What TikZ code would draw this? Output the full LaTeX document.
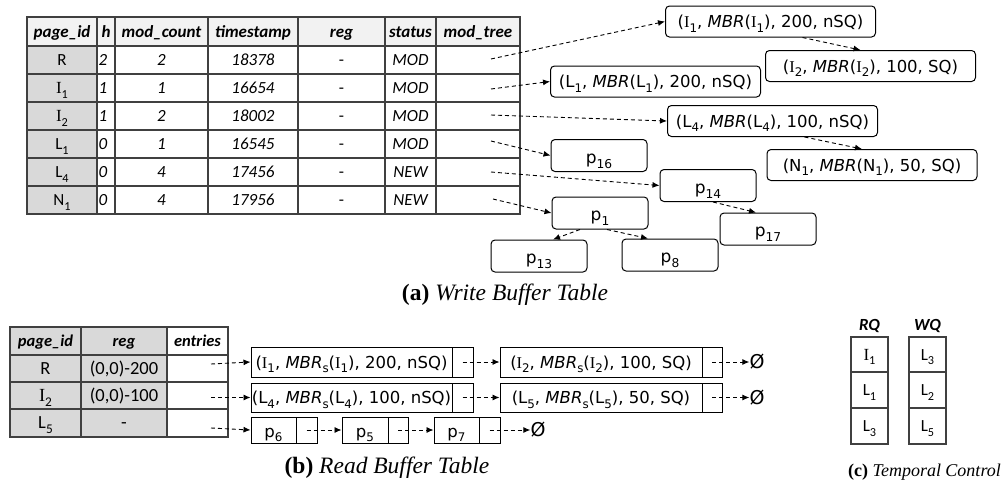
\documentclass[tikz,border=0pt]{standalone}
\usepackage{fontspec}
\setmainfont{Liberation Serif}
\newfontfamily\carl{Carlito}
\newfontfamily\verd{DejaVu Sans}
\newfontfamily\serI{Liberation Serif}
\usetikzlibrary{arrows.meta,calc}
\definecolor{hdr}{RGB}{242,242,242}
\definecolor{gcol}{RGB}{217,217,217}
\definecolor{tline}{RGB}{64,64,64}
\newcommand\sbs[1]{\raisebox{-0.28em}{\scalebox{0.72}{#1}}}
\newcommand\Ii{{\serI I}}
\tikzset{
  tbl/.style={draw=tline, line width=1.3pt},
  cbase/.style={inner sep=0pt, text height=12pt, text depth=1pt},
  ctx/.style={cbase, font=\carl\fontsize{17}{20}\selectfont},
  btx/.style={cbase, text height=12.5pt, font=\carl\fontsize{18.5}{22}\selectfont},
  chd/.style={cbase, font=\carl\fontsize{17}{20}\selectfont\bfseries\itshape},
  bhd/.style={cbase, font=\carl\fontsize{16.5}{20}\selectfont\bfseries\itshape},
  cit/.style={cbase, font=\carl\fontsize{17}{20}\selectfont\itshape},
  tup/.style={draw, rounded corners=4pt, line width=1pt, minimum width=210pt, minimum height=31pt, inner sep=0pt, font=\verd\fontsize{16.5}{19}\selectfont, text height=14pt, text depth=2pt},
  pbox/.style={draw, rounded corners=4pt, line width=1pt, minimum width=96pt, minimum height=32pt, inner sep=0pt, font=\verd\fontsize{17}{20}\selectfont, text height=17pt, text depth=1.5pt},
  lcell/.style={draw, line width=1pt, inner sep=0pt, font=\verd\fontsize{16.5}{19}\selectfont, text height=14pt, text depth=2pt},
  vtx/.style={inner sep=0pt, font=\verd\fontsize{19}{22}\selectfont},
  dar/.style={dash pattern=on 4pt off 3pt, line width=0.9pt, -{Latex[length=7pt,width=6pt]}},
  captxt/.style={inner sep=0pt, font=\fontsize{23.5}{27}\selectfont},
  capsm/.style={inner sep=0pt, font=\fontsize{18}{21}\selectfont},
}
\begin{document}
\begin{tikzpicture}[x=1pt,y=-1pt]
\useasboundingbox (0,0) rectangle (1005,485);

% ---------------- Table A ----------------
\fill[hdr] (27,17) rectangle (520,46);
\fill[gcol] (27,46) rectangle (97,214);
\foreach \yy in {46,74,102,130,158,186} \draw[tbl] (27,\yy) -- (520,\yy);
\foreach \xx in {97,115,208,298,385,436} \draw[tbl] (\xx,17) -- (\xx,214);
\draw[tbl] (27,17) rectangle (520,214);

\node[chd] (Ah1) at (62,31.5) {page\_id};
\node[chd] (Ah2) at (106,31.5) {h};
\node[chd] (Ah3) at (161.5,31.5) {mod\_count};
\node[chd] (Ah4) at (253,31.5) {timestamp};
\node[chd] (Ah5) at (341.5,31.5) {reg};
\node[chd] (Ah6) at (410.5,31.5) {status};
\node[chd] (Ah7) at (478,31.5) {mod\_tree};

\foreach \n/\yy/\pid/\hh/\mc/\ts/\st in {
  1/60/R/2/2/18378/MOD,
  2/88/{\Ii\sbs{1}}/1/1/16654/MOD,
  3/116/{\Ii\sbs{2}}/1/2/18002/MOD,
  4/144/{L\sbs{1}}/0/1/16545/MOD,
  5/172/{L\sbs{4}}/0/4/17456/NEW,
  6/200/{N\sbs{1}}/0/4/17956/NEW}{
  \node[ctx] (A\n c1) at (62,\yy) {\pid};
  \node[cit] (A\n c2) at (103,\yy) {\hh};
  \node[cit] (A\n c3) at (161.5,\yy) {\mc};
  \node[cit] (A\n c4) at (253,\yy) {\ts};
  \node[ctx] (A\n c5) at (341.5,\yy) {-};
  \node[cit] (A\n c6) at (410.5,\yy) {\st};
}
\coordinate (m1) at (491,59);
\coordinate (m2) at (491,89);
\coordinate (m3) at (491,115);
\coordinate (m4) at (491,141);
\coordinate (m5) at (491,172);
\coordinate (m6) at (493,199);

% ---------------- tree boxes ----------------
\node[tup] (tI1) at (770.5,21.5) {(\Ii\sbs{1}, \textit{MBR}(\Ii\sbs{1}), 200, nSQ)};
\node[tup] (tI2) at (870.5,66) {(\Ii\sbs{2}, \textit{MBR}(\Ii\sbs{2}), 100, SQ)};
\node[tup] (tL1) at (655.5,81.5) {(L\sbs{1}, \textit{MBR}(L\sbs{1}), 200, nSQ)};
\node[tup] (tL4) at (772.5,121) {(L\sbs{4}, \textit{MBR}(L\sbs{4}), 100, nSQ)};
\node[tup] (tN1) at (872,165) {(N\sbs{1}, \textit{MBR}(N\sbs{1}), 50, SQ)};

\node[pbox] (p16) at (599,155.5) {p\sbs{16}};
\node[pbox] (p14) at (708,185.5) {p\sbs{14}};
\node[pbox] (p1) at (600,213) {p\sbs{1}};
\node[pbox] (p17) at (768,229) {p\sbs{17}};
\node[pbox] (p13) at (539,256) {p\sbs{13}};
\node[pbox] (p8) at (670,255) {p\sbs{8}};

\draw[dar] (m1) -- (tI1.west);
\draw[dar] (m2) -- (tL1.west);
\draw[dar] (m3) -- (tL4.west);
\draw[dar] (m4) -- (p16.west);
\draw[dar] (m5) -- (p14.west);
\draw[dar] (m6) -- (p1.west);

\draw[dar] ([xshift=32pt]tI1.south) -- ([xshift=-10pt]tI2.north);
\draw[dar] ([xshift=32pt]tL4.south) -- ([xshift=-10pt]tN1.north);
\draw[dar] ([xshift=5pt]p14.south) -- ([xshift=-12pt]p17.north);
\draw[dar] ([xshift=-20pt]p1.south) -- ([xshift=14pt]p13.north);
\draw[dar] ([xshift=7pt]p1.south) -- ([xshift=-22pt]p8.north);

\node[captxt] (capA) at (505,295) {\textbf{(a)} \textit{Write Buffer Table}};

% ---------------- Table B ----------------
\fill[gcol] (10,327) rectangle (167,437);
\foreach \yy in {355,382,409} \draw[tbl] (10,\yy) -- (228,\yy);
\foreach \xx in {81,167} \draw[tbl] (\xx,327) -- (\xx,437);
\draw[tbl] (10,327) rectangle (228,437);

\node[bhd] (Bh1) at (45.5,341) {page\_id};
\node[bhd] (Bh2) at (124,341) {reg};
\node[bhd] (Bh3) at (197.5,341) {entries};
\node[btx] (B1c1) at (45.5,368.5) {R};
\node[btx] (B1c2) at (124,368.5) {(0,0)-200};
\node[btx] (B2c1) at (45.5,395.5) {\Ii\sbs{2}};
\node[btx] (B2c2) at (124,395.5) {(0,0)-100};
\node[btx] (B3c1) at (45.5,423) {L\sbs{5}};
\node[btx] (B3c2) at (124,423) {-};

\coordinate (e1) at (211,364);
\coordinate (e2) at (211,397.5);
\coordinate (e3) at (211,428);

% lists
\node[lcell, minimum width=201pt, minimum height=30pt] (r1a) at (351.5,362) {(\Ii\sbs{1}, \textit{MBR}\sbs{s}(\Ii\sbs{1}), 200, nSQ)};
\node[lcell, minimum width=21pt, minimum height=30pt] (r1ap) at (462.5,362) {};
\node[lcell, minimum width=202pt, minimum height=30pt] (r1b) at (601,362) {(\Ii\sbs{2}, \textit{MBR}\sbs{s}(\Ii\sbs{2}), 100, SQ)};
\node[lcell, minimum width=20pt, minimum height=30pt] (r1bp) at (712,362) {};
\node[vtx] (z1) at (757,362) {Ø};

\node[lcell, minimum width=201pt, minimum height=29pt] (r2a) at (351.5,397.5) {(L\sbs{4}, \textit{MBR}\sbs{s}(L\sbs{4}), 100, nSQ)};
\node[lcell, minimum width=21pt, minimum height=29pt] (r2ap) at (462.5,397.5) {};
\node[lcell, minimum width=202pt, minimum height=29pt] (r2b) at (601,397.5) {(L\sbs{5}, \textit{MBR}\sbs{s}(L\sbs{5}), 50, SQ)};
\node[lcell, minimum width=20pt, minimum height=29pt] (r2bp) at (712,397.5) {};
\node[vtx] (z2) at (757,397.5) {Ø};

\node[lcell, minimum width=45pt, minimum height=26pt, text height=16pt, text depth=1.5pt] (r3a) at (273.5,430) {p\sbs{6}};
\node[lcell, minimum width=21pt, minimum height=26pt] (r3ap) at (306.5,430) {};
\node[lcell, minimum width=46pt, minimum height=26pt, text height=16pt, text depth=1.5pt] (r3b) at (365,430) {p\sbs{5}};
\node[lcell, minimum width=20pt, minimum height=26pt] (r3bp) at (398,430) {};
\node[lcell, minimum width=45pt, minimum height=26pt, text height=16pt, text depth=1.5pt] (r3c) at (456.5,430) {p\sbs{7}};
\node[lcell, minimum width=21pt, minimum height=26pt] (r3cp) at (489.5,430) {};
\node[vtx] (z3) at (538,430) {Ø};

\draw[dar] (e1) -- (r1a.west);
\draw[dar] (e2) -- (r2a.west);
\draw[dar] (e3) -- (r3a.west);
\draw[dar] (r1ap.center) -- (r1b.west);
\draw[dar] (r1bp.center) -- (z1.west);
\draw[dar] (r2ap.center) -- (r2b.west);
\draw[dar] (r2bp.center) -- (z2.west);
\draw[dar] (r3ap.center) -- (r3b.west);
\draw[dar] (r3bp.center) -- (r3c.west);
\draw[dar] (r3cp.center) -- (z3.west);

\node[captxt] (capB) at (387,468) {\textbf{(b)} \textit{Read Buffer Table}};

% ---------------- Part C ----------------
\node[chd] (RQh) at (869.5,325) {RQ};
\node[chd] (WQh) at (927.5,325) {WQ};
\foreach \yy in {372,408} {\draw[tbl, line width=1.1pt] (851,\yy) -- (888,\yy); \draw[tbl, line width=1.1pt] (909,\yy) -- (946,\yy);}
\draw[tbl, line width=1.1pt] (851,337) rectangle (888,444);
\draw[tbl, line width=1.1pt] (909,337) rectangle (946,444);
\node[ctx] (rq1) at (869.5,354.5) {\Ii\sbs{1}};
\node[ctx] (rq2) at (869.5,390) {L\sbs{1}};
\node[ctx] (rq3) at (869.5,426) {L\sbs{3}};
\node[ctx] (wq1) at (927.5,354.5) {L\sbs{3}};
\node[ctx] (wq2) at (927.5,390) {L\sbs{2}};
\node[ctx] (wq3) at (927.5,426) {L\sbs{5}};

\node[capsm] (capC) at (924.5,472) {\textbf{(c)} \textit{Temporal Control}};
\end{tikzpicture}
\end{document}
